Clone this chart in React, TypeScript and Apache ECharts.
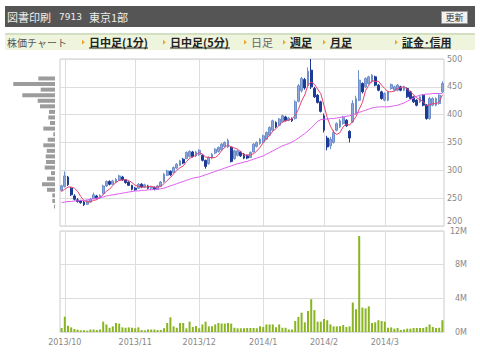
import { useEffect, useRef } from "react";
import * as echarts from "echarts";

// ---- trading days (Sep 30 2013 - Mar 28 2014) ----
const tradingDays: [number, number, number[]][] = [
  [2013, 9, [30]],
  [2013, 10, [1, 2, 3, 4, 7, 8, 9, 10, 11, 15, 16, 17, 18, 21, 22, 23, 24, 25, 28, 29, 30, 31]],
  [2013, 11, [1, 5, 6, 7, 8, 11, 12, 13, 14, 15, 18, 19, 20, 21, 22, 25, 26, 27, 28, 29]],
  [2013, 12, [2, 3, 4, 5, 6, 9, 10, 11, 12, 13, 16, 17, 18, 19, 20, 24, 25, 26, 27, 30]],
  [2014, 1, [6, 7, 8, 9, 10, 14, 15, 16, 17, 20, 21, 22, 23, 24, 27, 28, 29, 30, 31]],
  [2014, 2, [3, 4, 5, 6, 7, 10, 12, 13, 14, 17, 18, 19, 20, 21, 24, 25, 26, 27, 28]],
  [2014, 3, [3, 4, 5, 6, 7, 10, 11, 12, 13, 14, 17, 18, 19, 20, 24, 25, 26, 27, 28]],
];
const dates: string[] = [];
tradingDays.forEach(([y, m, ds]) => ds.forEach((d) => dates.push(`${y}/${m}/${d}`)));

const monthTicks = ["2013/10/1", "2013/11/1", "2013/12/2", "2014/1/6", "2014/2/3", "2014/3/3"];
const monthTickLabels = ["2013/10", "2013/11", "2013/12", "2014/1", "2014/2", "2014/3"];

// [open, close, low, high]
const candles: number[][] = [
  [264, 272, 262, 274], [271, 290, 269, 298], [288, 274, 272, 290], [268, 256, 254, 270],
  [254, 248, 246, 257], [247, 244, 242, 250], [245, 242, 240, 247], [243, 238, 236, 245],
  [239, 245, 238, 247], [243, 248, 242, 250], [249, 256, 248, 260], [254, 250, 248, 256],
  [250, 255, 249, 257], [258, 272, 257, 274], [272, 280, 270, 282], [280, 275, 273, 282],
  [275, 281, 274, 283], [279, 284, 277, 286], [282, 290, 281, 292], [288, 283, 281, 290],
  [283, 278, 276, 284], [279, 273, 272, 280], [273, 266, 264, 274], [268, 265, 263, 270],
  [268, 275, 267, 277], [275, 270, 268, 277], [270, 274, 268, 276], [272, 268, 266, 274],
  [268, 270, 265, 272], [269, 266, 264, 271], [266, 272, 265, 274], [271, 279, 270, 281],
  [279, 293, 278, 295], [291, 299, 290, 301], [298, 292, 290, 300], [296, 305, 295, 307],
  [304, 311, 302, 313], [309, 317, 308, 319], [320, 313, 311, 322], [321, 332, 320, 334],
  [325, 334, 323, 336], [333, 325, 323, 335], [326, 333, 324, 335], [328, 336, 326, 338],
  [327, 318, 316, 329], [318, 307, 303, 319], [312, 323, 310, 325], [322, 329, 320, 331],
  [331, 338, 329, 340], [334, 341, 332, 343], [337, 347, 335, 349], [343, 350, 341, 352],
  [342, 354, 340, 357], [342, 316, 314, 343], [321, 335, 319, 337], [327, 335, 325, 337],
  [333, 326, 324, 335], [329, 322, 320, 331], [326, 322, 320, 328], [323, 332, 322, 334],
  [333, 347, 332, 349], [343, 350, 341, 352], [348, 356, 346, 358], [351, 362, 349, 364],
  [356, 368, 355, 370], [363, 377, 362, 379], [372, 389, 371, 391], [386, 378, 376, 388],
  [381, 392, 380, 394], [387, 398, 386, 400], [396, 389, 388, 398], [390, 394, 388, 396],
  [393, 389, 387, 395], [393, 423, 391, 426], [424, 452, 422, 455], [443, 465, 440, 468],
  [463, 448, 445, 466], [452, 478, 450, 485], [480, 450, 446, 500], [447, 432, 430, 450],
  [435, 422, 420, 437], [423, 406, 404, 425], [398, 372, 368, 402], [358, 342, 336, 362],
  [344, 356, 338, 360], [350, 368, 348, 372], [372, 384, 370, 386], [378, 389, 376, 392],
  [384, 395, 382, 398], [390, 380, 378, 392], [370, 358, 350, 372], [387, 420, 385, 426],
  [402, 429, 400, 434], [426, 462, 424, 480], [456, 441, 438, 458], [450, 465, 448, 467],
  [456, 468, 454, 470], [459, 471, 457, 473], [468, 453, 451, 470], [453, 444, 442, 455],
  [441, 429, 427, 443], [426, 438, 424, 440], [426, 441, 424, 443], [447, 454, 445, 456],
  [444, 450, 442, 452], [444, 453, 442, 455], [450, 444, 442, 452], [444, 450, 442, 452],
  [447, 432, 430, 449], [441, 429, 427, 443], [432, 423, 421, 434], [426, 417, 415, 428],
  [423, 432, 421, 434], [435, 417, 415, 437], [417, 393, 391, 419], [393, 429, 391, 432],
  [417, 429, 415, 431], [417, 429, 415, 431], [420, 435, 418, 437], [441, 456, 439, 460],
];

// short moving average (red)
const maShort = [
  262, 266, 270, 270, 268, 262.4, 252.8, 245.6, 243.4, 243.4, 245.8, 247.4, 250.8, 256.2, 262.6,
  266.4, 272.6, 278.4, 282, 282.6, 283.2, 281.6, 278, 273, 271.4, 269.8, 270, 270.4, 271.4, 269.6,
  270, 271, 276, 281.8, 287, 293.6, 300, 304.8, 307.6, 315.6, 321.4, 324.2, 327.4, 332, 329.2,
  323.8, 323.4, 322.6, 323, 327.6, 335.6, 341, 346, 341.6, 340.4, 338, 333.2, 326.8, 328, 327.4,
  329.8, 334.6, 341.4, 349.4, 356.6, 362.6, 370.4, 374.8, 380.8, 386.8, 389.2, 390.2, 392.4, 398.6,
  409.4, 424.6, 435.4, 453.2, 458.6, 454.6, 446, 437.6, 416.4, 394.8, 379.6, 368.8, 364.4, 367.8,
  378.4, 383.2, 381.2, 388.4, 396.4, 409.8, 422, 443.4, 453, 461.4, 459.6, 460.2, 453, 447, 441,
  441.2, 442.4, 447.2, 448.4, 450.2, 445.8, 441.6, 435.6, 430.2, 426.6, 423.6, 416.4, 417.6, 420,
  419.4, 423, 435.6,
];

// long moving average (magenta)
const maLong = [
  242, 243, 244, 244, 245, 245, 246, 246, 247, 248, 249, 250, 251, 252, 254, 255, 256, 257, 258,
  259, 260, 261, 262, 263, 263, 264, 264, 265, 265, 266, 266, 267, 268, 270, 272, 274, 276, 278,
  280, 282, 284, 286, 287, 288, 290, 292, 294, 296, 298, 300, 302, 304, 306, 308, 310, 312, 313,
  315, 316, 318, 320, 322, 324, 326, 329, 332, 335, 338, 341, 344, 346, 348, 351, 354, 358, 362,
  366, 371, 376, 382, 388, 391, 392, 392, 393, 393, 394, 395, 396, 397, 398, 400, 402, 404, 406,
  408, 410, 412, 413, 414, 414, 414, 414, 415, 416, 417, 419, 421, 424, 427, 430, 433, 435, 436,
  437, 437, 438, 438, 438, 438,
];

// daily volume, millions of shares
const volumes = [
  0.48, 1.8, 0.75, 0.55, 0.36, 0.28, 0.2, 0.2, 0.16, 0.3, 0.3, 0.24, 0.3, 1.23, 0.9, 0.5, 0.67,
  1.07, 1.0, 0.55, 0.5, 0.55, 0.5, 0.44, 0.55, 0.24, 0.2, 0.3, 0.3, 0.3, 0.24, 0.24, 0.44, 1.07,
  1.75, 0.67, 0.5, 1.07, 1.07, 0.44, 1.23, 0.6, 0.7, 0.44, 0.9, 1.23, 0.67, 0.67, 0.9, 1.07, 1.0,
  1.0, 1.07, 1.0, 0.5, 0.44, 0.44, 0.44, 0.48, 0.48, 0.48, 0.44, 0.67, 0.6, 0.9, 0.9, 0.9, 0.55,
  0.9, 0.5, 0.5, 0.3, 0.3, 1.3, 1.8, 2.3, 1.15, 2.5, 3.9, 2.6, 1.23, 1.23, 1.55, 1.4, 0.9, 0.67,
  0.67, 0.67, 0.83, 0.6, 0.67, 3.5, 2.7, 11.4, 2.9, 2.8, 3.05, 1.07, 1.15, 1.4, 1.3, 1.23, 0.5,
  0.55, 0.4, 0.48, 0.24, 0.3, 0.4, 0.4, 0.48, 0.48, 0.48, 0.48, 0.6, 0.9, 0.6, 0.48, 0.5, 1.4,
];

// volume by price band (relative)
const priceBands = [
  "200", "210", "220", "230", "240", "250", "260", "270", "280", "290", "300", "310", "320", "330", "340",
  "350", "360", "370", "380", "390", "400", "410", "420", "430", "440", "450", "460", "470", "480", "490",
];
const bandVolume = [
  0, 0, 0, 1, 2.7, 2.7, 8, 13, 8, 4, 10.3, 9, 9.3, 8.3, 11.7, 7.3, 1.7, 11.7, 5, 6.7, 6, 15, 17.3,
  32.7, 14.3, 41.7, 16.7, 0, 0, 0,
];

const priceTicks = { min: 200, max: 500, step: 50 };
const volTicks = { min: 0, max: 12, step: 4 };

const navItems = [
  { t: "日中足(1分)", x: 89, w: 59, link: true },
  { t: "日中足(5分)", x: 170, w: 60, link: true },
  { t: "日足", x: 251, w: 22, link: false },
  { t: "週足", x: 290, w: 22, link: true },
  { t: "月足", x: 330, w: 22, link: true },
  { t: "証金･信用", x: 402, w: 49, link: true },
];

const CJK = '"Noto Sans CJK JP", sans-serif';
const LAT = '"DejaVu Sans", sans-serif';

export default function App() {
  const ref = useRef<HTMLDivElement>(null);
  useEffect(() => {
    if (!ref.current) return;
    const chart = echarts.init(ref.current, undefined, { renderer: "svg" });
    const isMonthStart = (i: number) => monthTicks.indexOf(dates[i]) >= 0;

    const graphic: any[] = [
      { type: "rect", shape: { x: 5, y: 6, width: 470, height: 21 }, style: { fill: "#555555" } },
      { type: "text", x: 7, y: 17, style: { text: "図書印刷", fill: "#eeeeee", font: `11px ${CJK}`, textVerticalAlign: "middle" } },
      { type: "text", x: 59, y: 17, style: { text: "7913", fill: "#eeeeee", font: `9px ${LAT}`, textVerticalAlign: "middle" } },
      { type: "text", x: 89, y: 17, style: { text: "東京1部", fill: "#eeeeee", font: `11px ${CJK}`, textVerticalAlign: "middle" } },
      { type: "rect", shape: { x: 441.5, y: 11.5, width: 26, height: 12 }, style: { fill: "#f2f2f2", stroke: "#999999", lineWidth: 1 } },
      { type: "text", x: 454.5, y: 17.8, style: { text: "更新", fill: "#333333", font: `9px ${CJK}`, textAlign: "center", textVerticalAlign: "middle" } },
      { type: "rect", shape: { x: 5, y: 33, width: 470, height: 17 }, style: { fill: "#eef5dc" } },
      { type: "rect", shape: { x: 5, y: 33, width: 470, height: 2 }, style: { fill: "#d3dfc2" } },
      { type: "text", x: 7, y: 42, style: { text: "株価チャート", fill: "#555555", font: `10px ${CJK}`, textVerticalAlign: "middle" } },
    ];
    navItems.forEach((n) => {
      const ax = n.x - 7;
      graphic.push({
        type: "polygon",
        shape: { points: [[ax, 39.8], [ax + 2.8, 42.2], [ax, 44.6]] },
        style: { fill: "#f0a020" },
      });
      graphic.push({
        type: "text",
        x: n.x,
        y: 42,
        style: {
          text: n.t,
          fill: n.link ? "#222222" : "#666666",
          font: `${n.link ? "bold " : ""}11px ${CJK}`,
          textVerticalAlign: "middle",
        },
      });
      if (n.link) {
        graphic.push({
          type: "line",
          shape: { x1: n.x, y1: 48, x2: n.x + n.w, y2: 48 },
          style: { stroke: "#222222", lineWidth: 1 },
        });
      }
    });

    const axisText = { color: "#888888", fontSize: 8, fontFamily: "DejaVu Sans" };
    const gridLine = { lineStyle: { color: "#dddddd", width: 1 } };

    chart.setOption({
      animation: false,
      backgroundColor: "#ffffff",
      graphic,
      grid: [
        { left: 60, top: 59, width: 384, height: 167, show: true, borderColor: "#cccccc", borderWidth: 1 },
        { left: 60, top: 231, width: 384, height: 101, show: true, borderColor: "#cccccc", borderWidth: 1 },
        { left: 8, top: 59, width: 47, height: 167, show: false },
      ],
      xAxis: [
        {
          type: "category", gridIndex: 0, data: dates, boundaryGap: true,
          axisLine: { show: false }, axisTick: { show: false }, axisLabel: { show: false },
          splitLine: { show: true, interval: (i: number) => isMonthStart(i), alignWithLabel: true, ...gridLine },
        },
        {
          type: "category", gridIndex: 1, data: dates, boundaryGap: true,
          axisLine: { show: false }, axisTick: { show: false },
          axisLabel: {
            ...axisText, margin: 6, interval: (i: number) => isMonthStart(i),
            formatter: (v: string) => monthTickLabels[monthTicks.indexOf(v)] ?? "",
          },
          splitLine: { show: true, interval: (i: number) => isMonthStart(i), alignWithLabel: true, ...gridLine },
        },
        { type: "value", gridIndex: 2, inverse: true, min: 0, max: 47, show: false },
      ],
      yAxis: [
        {
          type: "value", gridIndex: 0, position: "right", min: priceTicks.min, max: priceTicks.max, interval: priceTicks.step,
          axisLine: { show: false }, axisTick: { show: false },
          axisLabel: {
            ...axisText, margin: 3,
            formatter: (v: number) => (v === priceTicks.min ? `{lo|${v}}` : `${v}`),
            rich: { lo: { ...axisText, padding: [0, 0, 9, 0] } },
          },
          splitLine: gridLine,
        },
        {
          type: "value", gridIndex: 1, position: "right", min: volTicks.min, max: volTicks.max, interval: volTicks.step,
          axisLine: { show: false }, axisTick: { show: false },
          axisLabel: { ...axisText, margin: 23, align: "right", formatter: (v: number) => `${v}M` }, splitLine: gridLine,
        },
        { type: "category", gridIndex: 2, data: priceBands, show: false },
      ],
      series: [
        {
          type: "bar", xAxisIndex: 2, yAxisIndex: 2, data: bandVolume, barWidth: 4,
          itemStyle: { color: "#9c9c9c" }, silent: true,
        },
        {
          type: "candlestick", xAxisIndex: 0, yAxisIndex: 0, data: candles, barWidth: 2.4,
          itemStyle: { color: "#8ea8da", color0: "#1d3a95", borderColor: "#6f8fcb", borderColor0: "#1d3a95", borderWidth: 1 },
        },
        {
          type: "line", xAxisIndex: 0, yAxisIndex: 0, data: maShort, symbol: "none",
          lineStyle: { color: "#ec3f6e", width: 1 }, z: 3,
        },
        {
          type: "line", xAxisIndex: 0, yAxisIndex: 0, data: maLong, symbol: "none",
          lineStyle: { color: "#df5ff0", width: 1 }, z: 3,
        },
        {
          type: "bar", xAxisIndex: 1, yAxisIndex: 1, data: volumes, barWidth: 2,
          itemStyle: { color: "#8ab523" },
        },
      ],
    });
    return () => chart.dispose();
  }, []);
  return <div ref={ref} style={{ position: "fixed", left: 0, top: 0, width: 480, height: 360 }} />;
}
